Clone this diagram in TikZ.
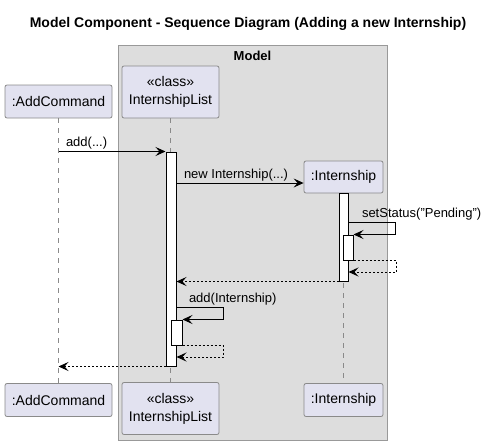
\documentclass[tikz,border=0pt]{standalone}
\usepackage{fontspec}
\setmainfont{Liberation Sans}
\usetikzlibrary{arrows.meta,calc}
\definecolor{partfill}{HTML}{E2E2F0}
\definecolor{partline}{HTML}{8A8A8A}
\definecolor{groupfill}{HTML}{DDDDDD}
\definecolor{groupline}{HTML}{999999}
\tikzstyle{part}=[draw=partline, fill=partfill, rounded corners=2pt, line width=0.8pt,
    align=center, inner sep=0pt, font=\fontsize{14}{18}\selectfont]
\tikzstyle{bar}=[draw=black, fill=white, line width=1pt, inner sep=0pt, minimum width=10pt]
\tikzstyle{life}=[draw=partline, line width=0.8pt, dash pattern=on 5pt off 5pt]
\tikzstyle{msg}=[draw=black, line width=1pt, -{Stealth[length=10pt,width=9pt,inset=4pt]}]
\tikzstyle{ret}=[msg, dash pattern=on 2pt off 2pt]
\tikzstyle{ann}=[anchor=base west, inner sep=0pt, font=\fontsize{13}{15}\selectfont]
\def\selfw{47}
\def\lift{5}

\begin{document}
\begin{tikzpicture}[x=1pt, y=-1pt]
    \useasboundingbox (0,0) rectangle (486,444);
    \node (title) at (248,24) [font=\fontsize{14}{16}\selectfont\bfseries]
        {Model Component - Sequence Diagram (Adding a new Internship)};
    % group box
    \node (model) at (252.5,242.5) [draw=groupline, fill=groupfill, line width=0.8pt,
        minimum width=269pt, minimum height=395pt] {};
    \path (model.north)+(0,11) node (modellbl)
        [font=\fontsize{13}{15}\selectfont\bfseries] {Model};
    % participants
    \path (58.5,101.5) node (acTop) [part, minimum width=107pt, minimum height=33pt] {:AddCommand};
    \path (170.5,92) node (ilTop) [part, minimum width=97pt, minimum height=52pt] {«class»\\InternshipList};
    \path (343.5,177) node (inTop) [part, minimum width=79pt, minimum height=32pt] {:Internship};
    \path (58.5,400) node (acBot) [part, minimum width=107pt, minimum height=33pt] {:AddCommand};
    \path (170.5,408.5) node (ilBot) [part, minimum width=97pt, minimum height=52pt] {«class»\\InternshipList};
    \path (343.5,400) node (inBot) [part, minimum width=79pt, minimum height=33pt] {:Internship};
    % lifelines
    \path [life] (acTop) -- (acBot);
    \path [life] (ilTop) -- (ilBot);
    \path [life] (inTop) -- (inBot);
    % activations
    \path (171,259) node (ilBar) [bar, minimum height=214pt] {};
    \path (343.5,237) node (inBar) [bar, minimum width=9pt, minimum height=88pt] {};
    \path (348,247.5) node (inBar2) [bar, minimum height=25pt] {};
    \path (176.5,332.5) node (ilBar2) [bar, minimum width=11pt, minimum height=25pt] {};
    \coordinate (newy) at (0,183);
    \coordinate (sety) at (0,222);
    \coordinate (setry) at (0,272);
    \coordinate (addy) at (0,307);
    \coordinate (addry) at (0,357);
    % messages
    \draw [msg] (acTop.south |- ilBar.north west)
        node [ann, xshift=7pt, yshift=\lift pt] {add(...)} -- (ilBar.north west);
    \draw [msg] (ilBar.east |- newy)
        node [ann, xshift=7pt, yshift=\lift pt] {new Internship(...)} -- (inTop.west |- newy);
    \draw [msg] (inBar.east |- sety)
        node [ann, xshift=13pt, yshift=\lift pt] {setStatus(\symbol{34}Pending\symbol{34})}
        -- ++(\selfw,0) |- (inBar2.north east);
    \draw [ret] (inBar2.south east) -- ++(43,0) |- (inBar.east |- setry);
    \draw [ret] (inBar.south west) -- (ilBar.east |- inBar.south west);
    \draw [msg] (ilBar.east |- addy)
        node [ann, xshift=12pt, yshift=\lift pt] {add(Internship)}
        -- ++(\selfw,0) |- (ilBar2.north east);
    \draw [ret] (ilBar2.south east) -- ++(41,0) |- (ilBar.east |- addry);
    \draw [ret] (ilBar.south west) -- (acTop.south |- ilBar.south west);
\end{tikzpicture}
\end{document}
